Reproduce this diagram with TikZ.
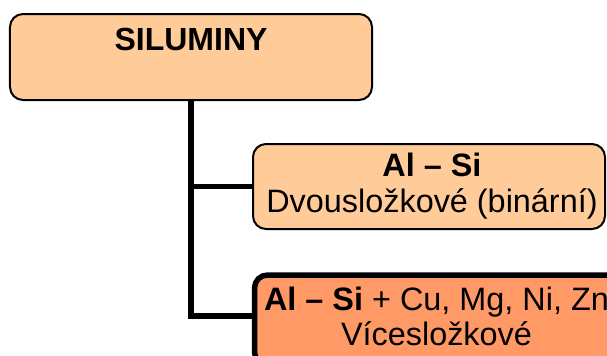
\documentclass[tikz,border=0pt]{standalone}
\usepackage{fontspec}
\setmainfont{Liberation Sans}
\usetikzlibrary{positioning}
\definecolor{peach}{HTML}{FFCC99}
\definecolor{salmon}{HTML}{FF9966}

\begin{document}
\begin{tikzpicture}[x=0.5pt, y=-0.5pt,
  group/.style={rectangle, rounded corners=6.5pt, draw=black, line width=1pt, fill=peach, inner sep=0pt, font=\fontsize{16.2}{18}\selectfont, align=center},
  binary/.style={group, minimum width=176pt, minimum height=42.5pt},
  multi/.style={group, fill=salmon, line width=2.75pt, minimum width=182pt, minimum height=45pt, font=\fontsize{16.2}{17.5}\selectfont},
  link/.style={line width=2.75pt}
]
\useasboundingbox (0,0) rectangle (607,355);
\clip (0,0) rectangle (607,355);

% Root
\node[group, minimum width=181pt, minimum height=43pt, text height=11.5pt, text depth=18.5pt, font=\fontsize{16}{18}\selectfont\bfseries] (siluminy) at (191,57) {SILUMINY};

% Branches
\node[binary] (alsi) at (429,186.5) {\hspace*{3pt}\textbf{Al – Si}\\\hspace*{3pt}Dvousložkové (binární)};
\node[multi] (alsix) at (436.5,320) {\textbf{Al – Si} + Cu, Mg, Ni, Zn\\Vícesložkové\rule[-4pt]{0pt}{0pt}};

% Connections
\draw[link] (siluminy.south) |- (alsi.west);
\draw[link] (siluminy.south) |- ([yshift=2pt]alsix.west);

\end{tikzpicture}
\end{document}
